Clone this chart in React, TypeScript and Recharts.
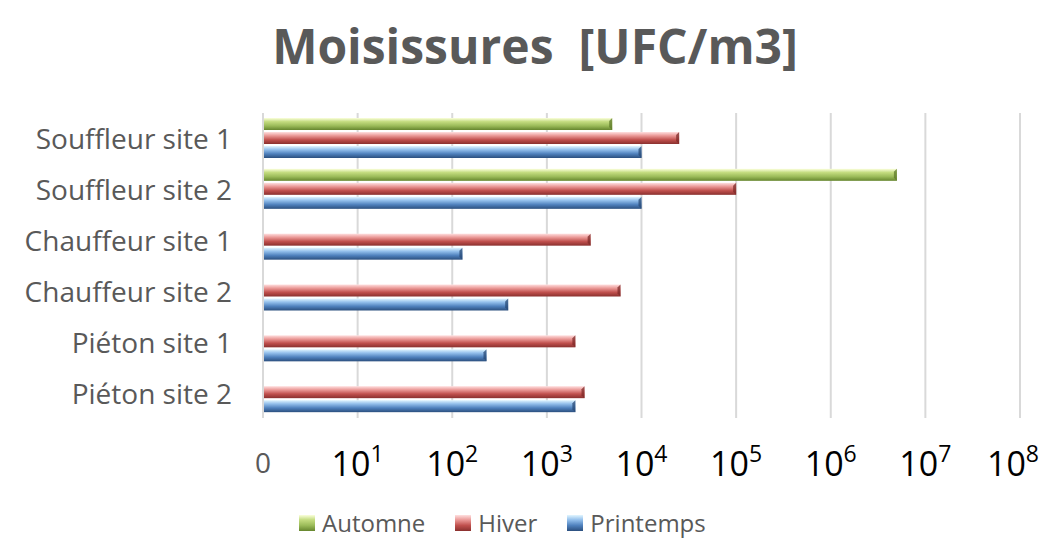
import React from 'react';
import { BarChart, Bar, XAxis, YAxis, CartesianGrid } from 'recharts';

const categories = ['Souffleur site 1', 'Souffleur site 2', 'Chauffeur site 1', 'Chauffeur site 2', 'Piéton site 1', 'Piéton site 2'];
const automne = [4900, 5000000, null, null, null, null];
const hiver = [25000, 100000, 2900, 6000, 2000, 2500];
const printemps = [10000, 10000, 128, 390, 230, 2000];
const xTicks = [1, 10, 100, 1000, 10000, 100000, 1000000, 10000000, 100000000];

const rows = categories.map((name, i) => ({
  name,
  Automne: automne[i],
  Hiver: hiver[i],
  Printemps: printemps[i],
}));

const FONT = '"Open Sans", sans-serif';

const series = [
  { key: 'Automne', id: 'gAut', stops: ['#fbffdc', '#c4dc80', '#9bbb59', '#66862e'], edge: '#5d7a2a' },
  { key: 'Hiver', id: 'gHiv', stops: ['#ffe0e0', '#eb9a98', '#c0504d', '#8a302e'], edge: '#7d2a28' },
  { key: 'Printemps', id: 'gPri', stops: ['#e2f6ff', '#94c0ec', '#4f81bd', '#2b4f7e'], edge: '#284a75' },
];

// bar with a small bevel on the right end
const BevelBar: React.FC<any> = ({ x, y, width, height, fill, edge }) => {
  if (!width || width <= 0) return null;
  const b = 3;
  return (
    <g>
      <rect x={x} y={y} width={width} height={height} fill={fill} />
      <polygon
        points={`${x + width - b},${y + b} ${x + width},${y} ${x + width},${y + height} ${x + width - b},${y + height - b}`}
        fill={edge}
        opacity={0.75}
      />
    </g>
  );
};

const XTick: React.FC<any> = ({ x, y, payload }) => {
  const e = Math.round(Math.log10(payload.value));
  if (e === 0) {
    return (
      <text x={x} y={y + 53} textAnchor="middle" fill="#595959" fontSize={28} fontFamily={FONT}>0</text>
    );
  }
  return (
    <text x={x} y={y + 56} textAnchor="middle" fill="#000" fontSize={34} fontFamily={FONT}>
      10<tspan dy={-14} fontSize={23}>{e}</tspan>
    </text>
  );
};

const LegendBox: React.FC<{ s: typeof series[number] }> = ({ s }) => (
  <span style={{ display: 'flex', alignItems: 'center', marginRight: 30 }}>
    <svg width={16} height={16} style={{ marginRight: 7 }}>
      <rect x={0} y={0} width={16} height={16} fill={`url(#${s.id})`} />
    </svg>
    <span>{s.key}</span>
  </span>
);

export default function App() {
  return (
    <div style={{ position: 'absolute', left: 0, top: 0, width: 1049, height: 540, background: '#fff', fontFamily: FONT }}>
      <div style={{ position: 'absolute', left: 21, top: 22, width: 1028, textAlign: 'center', fontSize: 48, fontWeight: 700, color: '#595959', lineHeight: 1, whiteSpace: 'pre' }}>
        {'Moisissures  [UFC/m3]'}
      </div>
      <BarChart
        width={1049}
        height={540}
        data={rows}
        layout="vertical"
        margin={{ top: 113, right: 29, bottom: 52, left: 0 }}
        barSize={12}
        barGap={2}
      >
        <defs>
          {series.map(s => (
            <linearGradient key={s.id} id={s.id} x1="0" y1="0" x2="0" y2="1">
              <stop offset="0%" stopColor={s.stops[0]} />
              <stop offset="30%" stopColor={s.stops[1]} />
              <stop offset="65%" stopColor={s.stops[2]} />
              <stop offset="100%" stopColor={s.stops[3]} />
            </linearGradient>
          ))}
        </defs>
        <CartesianGrid horizontal={false} stroke="#d9d9d9" strokeWidth={2} />
        <XAxis
          type="number"
          scale="log"
          domain={[1, 100000000]}
          ticks={xTicks}
          allowDataOverflow
          axisLine={false}
          tickLine={false}
          tickSize={0}
          height={70}
          tick={<XTick />}
        />
        <YAxis
          type="category"
          dataKey="name"
          width={263}
          axisLine={{ stroke: '#d9d9d9', strokeWidth: 2 }}
          tickLine={false}
          tickSize={0}
          tickMargin={31}
          tick={{ fill: '#595959', fontSize: 28, fontFamily: FONT, dy: 1 }}
        />
        {series.map(s => (
          <Bar
            key={s.key}
            dataKey={s.key}
            fill={`url(#${s.id})`}
            isAnimationActive={false}
            shape={(p: any) => <BevelBar {...p} edge={s.edge} />}
          />
        ))}
      </BarChart>
      <div style={{ position: 'absolute', left: 299, top: 506, display: 'flex', alignItems: 'center', fontSize: 24, color: '#595959' }}>
        {series.map(s => <LegendBox key={s.key} s={s} />)}
      </div>
    </div>
  );
}
